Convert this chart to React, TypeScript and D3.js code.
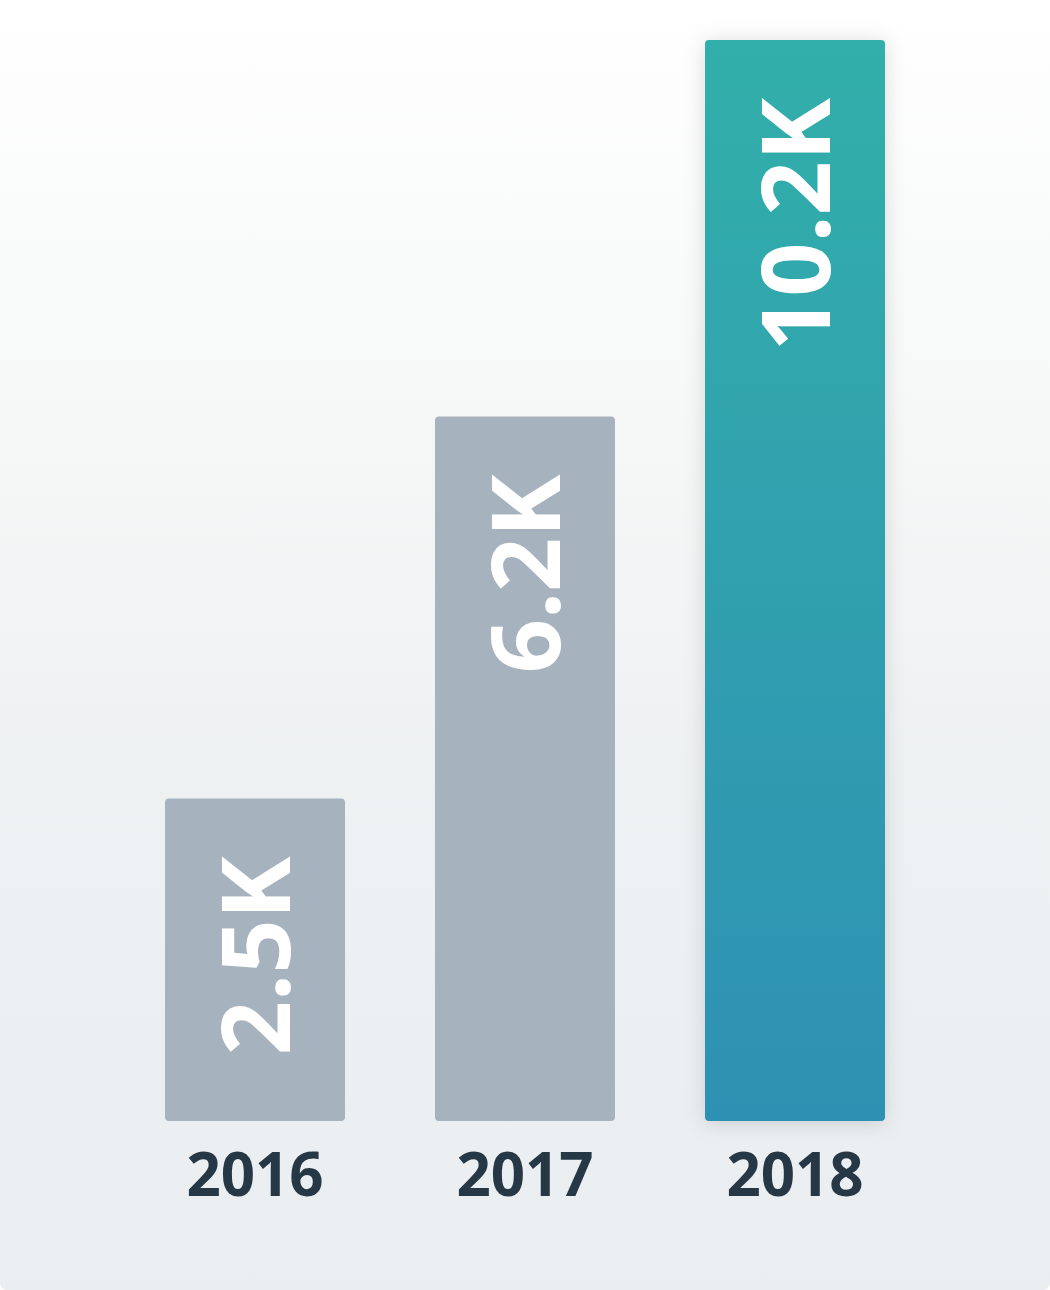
import React from "react";
import * as d3 from "d3";

// Yearly totals, in thousands
const years = ["2016", "2017", "2018"];
const totals = [2.5, 6.2, 10.2];
const valueLabels = ["2.5K", "6.2K", "10.2K"];
const highlighted = ["2018"];

const W = 1050;
const H = 1290;
const margin = { top: 40, bottom: 169, left: 120, right: 120 };
const FONT = "'Open Sans', 'Noto Sans', sans-serif";

export default function App() {
  const x = d3
    .scaleBand<string>()
    .domain(years)
    .range([margin.left, W - margin.right])
    .paddingInner(1 / 3)
    .paddingOuter(1 / 6);

  const baseline = H - margin.bottom;
  // Compressed value axis so the small bars still hold their labels
  const y = d3
    .scalePow()
    .exponent(0.86)
    .domain([0, d3.max(totals) as number])
    .range([baseline, margin.top]);

  const bw = x.bandwidth();
  const r = 4;

  const barPath = (x0: number, y0: number, w: number, y1: number) => {
    const p = d3.path();
    p.moveTo(x0, y1);
    p.lineTo(x0, y0 + r);
    p.arcTo(x0, y0, x0 + r, y0, r);
    p.lineTo(x0 + w - r, y0);
    p.arcTo(x0 + w, y0, x0 + w, y0 + r, r);
    p.lineTo(x0 + w, y1 - r);
    p.arcTo(x0 + w, y1, x0 + w - r, y1, r);
    p.lineTo(x0 + r, y1);
    p.arcTo(x0, y1, x0, y1 - r, r);
    p.closePath();
    return p.toString();
  };

  return (
    <svg
      width={W}
      height={H}
      viewBox={`0 0 ${W} ${H}`}
      style={{ position: "absolute", left: 0, top: 0, display: "block" }}
    >
      <defs>
        <linearGradient id="bg" x1="0" y1="0" x2="0" y2="1">
          <stop offset="0" stopColor="#ffffff" />
          <stop offset="0.3" stopColor="#f7f8f8" />
          <stop offset="0.6" stopColor="#eef1f2" />
          <stop offset="1" stopColor="#eaeef0" />
        </linearGradient>
        <linearGradient id="hi" x1="0" y1="0" x2="0" y2="1">
          <stop offset="0" stopColor="#30afaa" />
          <stop offset="1" stopColor="#2f91b3" />
        </linearGradient>
        <filter id="shadow" x="-30%" y="-10%" width="160%" height="120%">
          <feDropShadow dx="0" dy="2" stdDeviation="10" floodColor="#000" floodOpacity="0.14" />
        </filter>
      </defs>

      <rect x={0} y={-10} width={W} height={H + 10} rx={7} fill="url(#bg)" />

      {years.map((yr, i) => {
        const x0 = x(yr) as number;
        const top = y(totals[i]);
        const isHi = highlighted.includes(yr);
        const cx = x0 + bw / 2;
        return (
          <g key={yr}>
            <path
              d={barPath(x0, top, bw, baseline)}
              fill={isHi ? "url(#hi)" : "#a6b2bd"}
              filter={isHi ? "url(#shadow)" : undefined}
            />
            <text
              transform={`translate(${cx + 35},${top + 58}) rotate(-90)`}
              textAnchor="end"
              fill="#ffffff"
              fontFamily={FONT}
              fontWeight={700}
              fontSize={95}
            >
              {valueLabels[i]}
            </text>
            <text
              x={cx}
              y={baseline + 75}
              textAnchor="middle"
              fill="#263746"
              fontFamily={FONT}
              fontWeight={700}
              fontSize={60}
            >
              {yr}
            </text>
          </g>
        );
      })}
    </svg>
  );
}
